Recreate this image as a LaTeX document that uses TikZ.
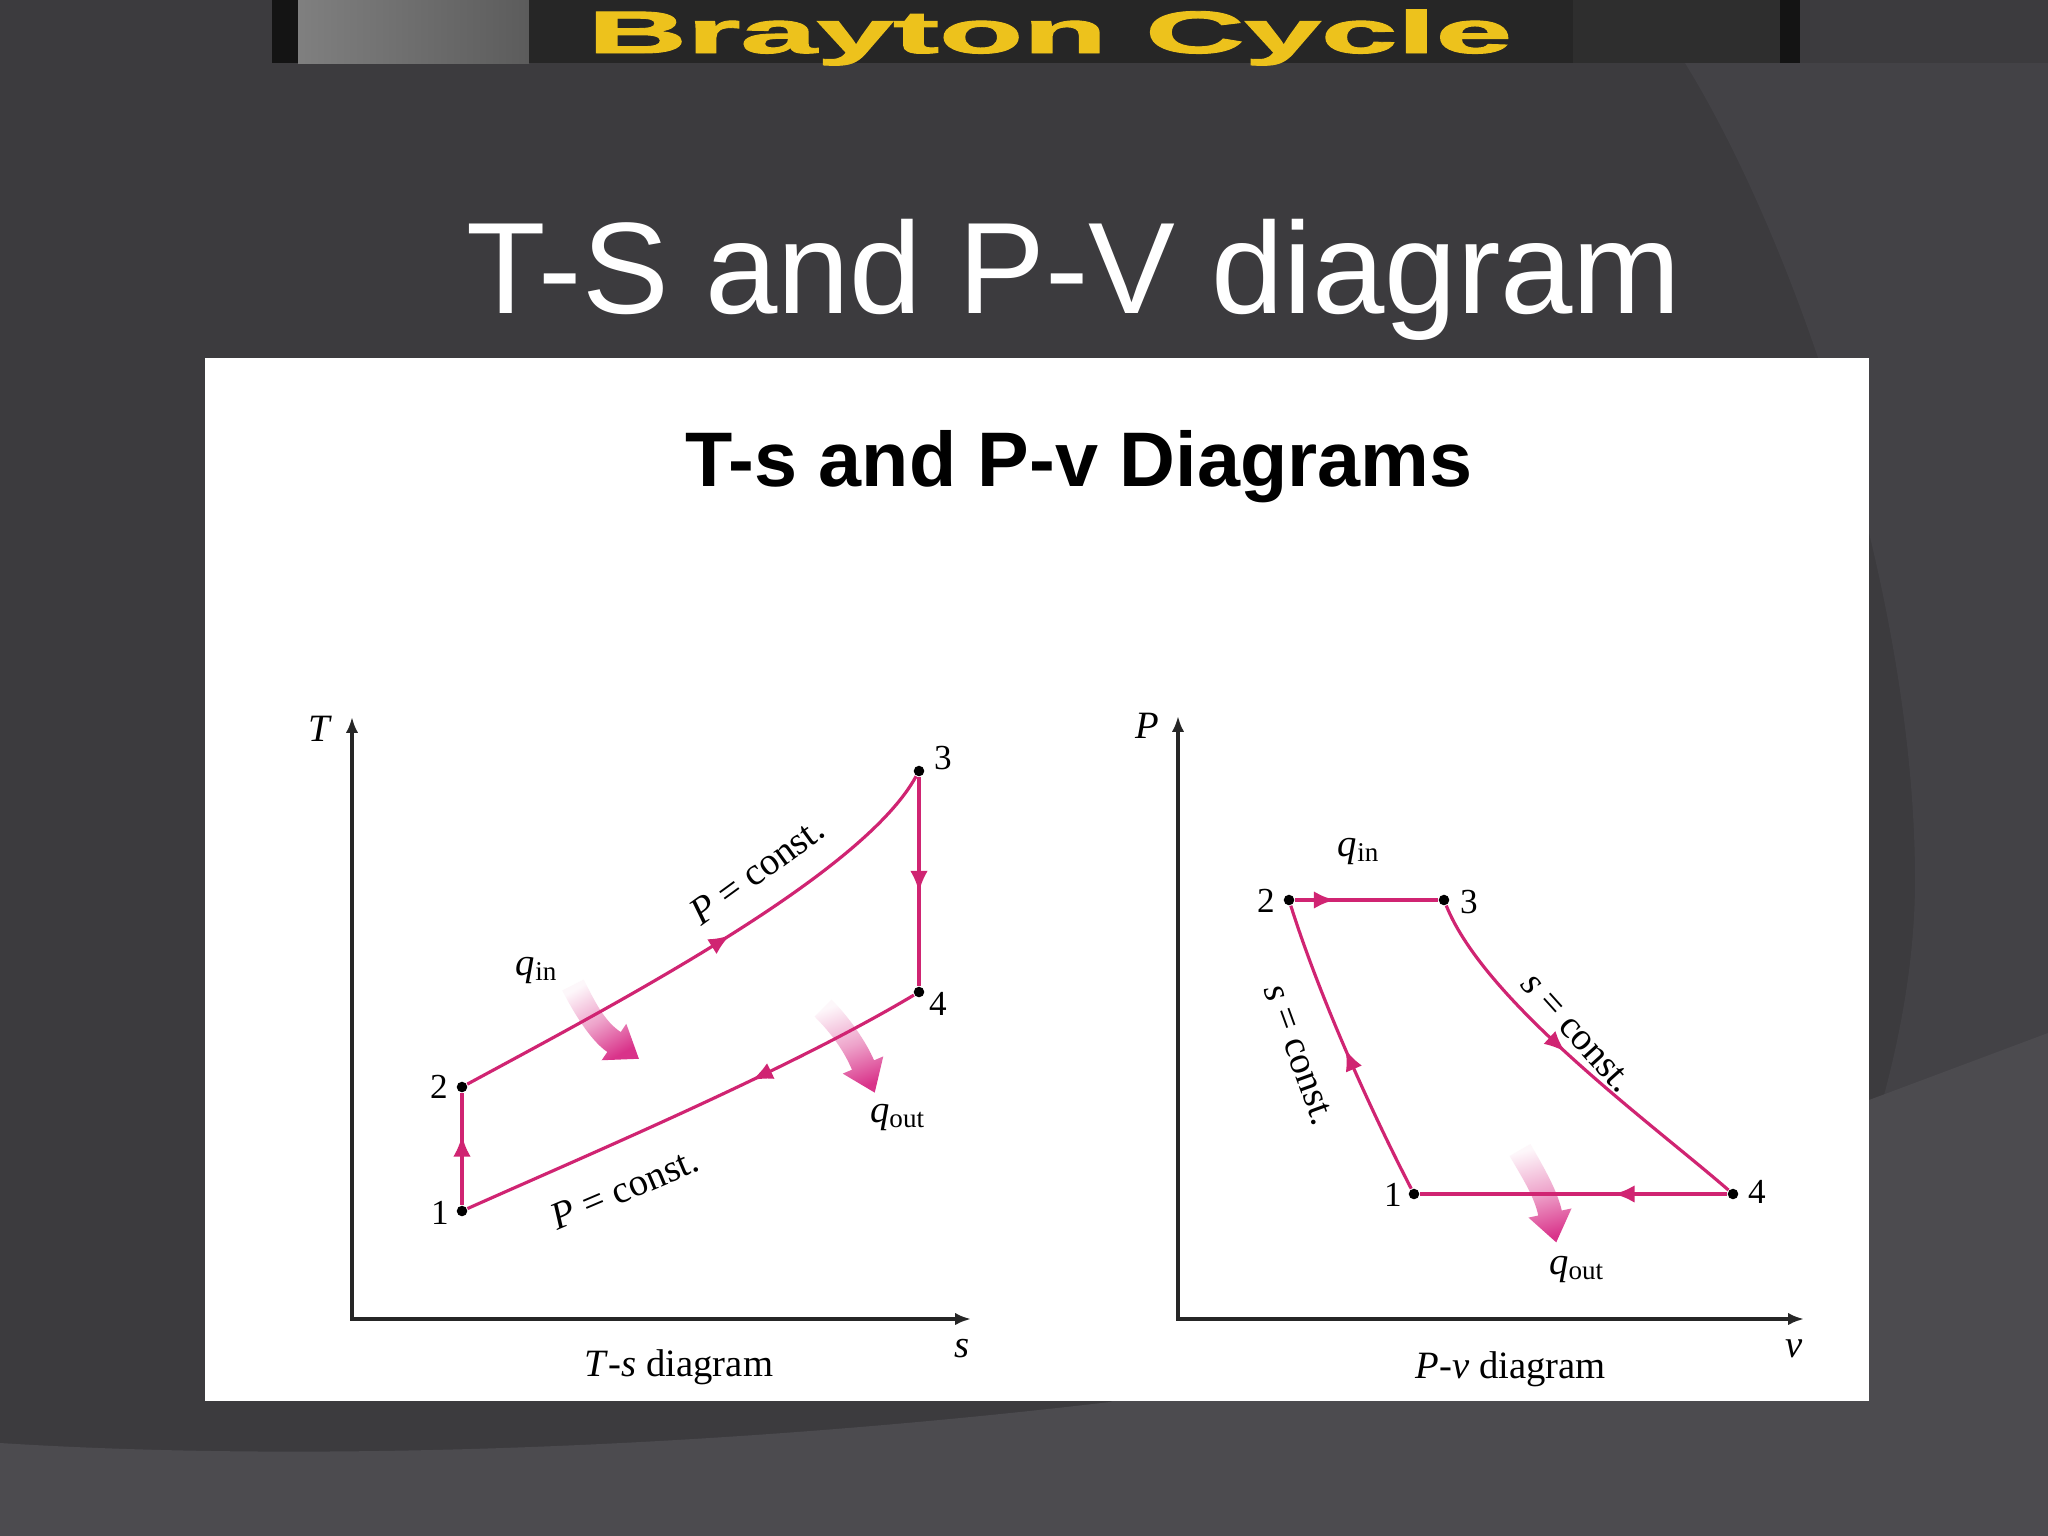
\documentclass[tikz,border=0pt]{standalone}
\usepackage{fontspec}
\setmainfont{Liberation Serif}
\setsansfont{Liberation Sans}
\newfontfamily\bannerfont[BoldFeatures={FakeBold=1.5}]{Liberation Sans}
\usetikzlibrary{arrows.meta}
\usetikzlibrary{calc}
\usetikzlibrary{decorations.markings}
\definecolor{slide}{HTML}{3C3B3E}
\definecolor{slideside}{HTML}{434246}
\definecolor{slidefoot}{HTML}{4C4B4F}
\definecolor{gold}{HTML}{EDC21C}
\definecolor{cycpink}{HTML}{D02472}
\definecolor{heatpink}{HTML}{D9338A}
\newcommand{\heatarrow}[5]{\shade[heat,shading angle=#5] ($(#1)+(#2+90:12)$) .. controls +(#2:25) and +(#4+180:20) .. ($(#3)+(#4+90:12)$) -- ($(#3)+(#4+90:22)$) -- ($(#3)+(#4:30)$) -- ($(#3)+(#4-90:22)$) -- ($(#3)+(#4-90:12)$) .. controls +(#4+180:20) and +(#2:25) .. ($(#1)+(#2-90:12)$) -- cycle;}

\begin{document}
\begin{tikzpicture}[x=0.01cm,y=-0.01cm,
	midarr/.style={postaction={decorate,decoration={markings,mark=at position #1 with {\arrow{Latex[length=6pt,width=5pt]}}}}}]
	\tikzstyle{axis}=[draw=black!85,line width=1pt,{Latex[length=4.5pt,width=3.5pt]}-{Latex[length=4.5pt,width=3.5pt]}]
	\tikzstyle{cyc}=[draw=cycpink,line width=0.9pt]
	\tikzstyle{cycthick}=[draw=cycpink,line width=1.3pt]
	\tikzstyle{statept}=[circle,fill=black,inner sep=0pt,minimum size=3pt]
	\tikzstyle{num}=[font=\fontsize{10}{12}\selectfont,inner sep=0pt]
	\tikzstyle{lbl}=[font=\fontsize{11}{13}\selectfont,inner sep=0pt]
	\tikzstyle{heat}=[top color=heatpink!4,bottom color=heatpink,middle color=heatpink!45]
	
	\useasboundingbox (0,0) rectangle (2048,1536);
	\fill[slide] (0,0) rectangle (2048,1536);
	\fill[slideside] (1685,63) .. controls (1800,250) and (1915,600) .. (1915,880) .. controls (1915,1100) and (1800,1350) .. (1684,1536) -- (2048,1536) -- (2048,63) -- cycle;
	\fill[slidefoot] (0,1443) .. controls (300,1462) and (700,1450) .. (1110,1402) -- (1869,1100) -- (2048,1033) -- (2048,1536) -- (0,1536) -- cycle;
	\fill[black!92] (272,0) rectangle (1800,63);
	\shade[left color=black!50,right color=black!64] (298,0) rectangle (529,63);
	\fill[black!85] (529,0) rectangle (1573,63);
	\fill[black!82] (1573,0) rectangle (1780,63);
	\node[font=\bannerfont\bfseries\fontsize{17}{17}\selectfont,text=gold,xscale=2.3,anchor=base] (brand) at (1050,53) {Brayton Cycle};
	\node[font=\sffamily\fontsize{37}{40}\selectfont,text=white,anchor=base] (title) at (1074,313) {T-S and P-V diagram};
	
	\fill[white] (205,358) rectangle (1869,1401);
	\node[font=\sffamily\bfseries\fontsize{22}{24}\selectfont,anchor=base] (paneltitle) at (1079,486) {T-s and P-v Diagrams};
	
	\coordinate (ttop) at (352,717);
	\coordinate (sright) at (971,1319);
	\draw[axis] (ttop) |- (sright);
	\node[lbl] (tlab) at (320,729) {\textit{T}};
	\node[lbl] (slab) at (962,1349) {\textit{s}};
	\node[lbl] (tscap) at (679,1367) {\textit{T}-\textit{s} diagram};
	\node[statept] (t1) at (462,1211) {};
	\node[statept] (t2) at (462,1087) {};
	\node[statept] (t3) at (919,771) {};
	\node[statept] (t4) at (919,992) {};
	\node[num] (tn1) at (440,1213) {1};
	\node[num] (tn2) at (439,1087) {2};
	\node[num] (tn3) at (943,758) {3};
	\node[num] (tn4) at (938,1004) {4};
	\coordinate (tqinA) at (573,985);
	\coordinate (tqinB) at (614,1042);
	\coordinate (tqoutA) at (823,1008);
	\coordinate (tqoutB) at (863,1065);
	\heatarrow{tqinA}{63}{tqinB}{34}{30}
	\heatarrow{tqoutA}{45}{tqoutB}{67}{20}
	\draw[cyc,midarr=.62] (t1) -- (t2);
	\draw[cyc,midarr=.55] (t2) .. controls (617,1003) and (862,875) .. (t3);
	\draw[cyc,midarr=.55] (t3) -- (t4);
	\draw[cyc,midarr=.37] (t4) .. controls (790,1069) and (599,1150) .. (t1);
	\node[lbl,rotate=36] (tpc1) at (757,871) {\textit{P} = const.};
	\node[lbl,rotate=23] (tpc2) at (625,1189) {\textit{P} = const.};
	\node[lbl] (tqin) at (537,970) {\textit{q}\textsubscript{in}};
	\node[lbl] (tqout) at (898,1117) {\textit{q}\textsubscript{out}};
	
	\coordinate (ptop) at (1178,716);
	\coordinate (vright) at (1804,1319);
	\draw[axis] (ptop) |- (vright);
	\node[lbl] (plab) at (1147,726) {\textit{P}};
	\node[lbl] (vlab) at (1794,1349) {\textit{v}};
	\node[lbl] (pvcap) at (1511,1369) {\textit{P}-\textit{v} diagram};
	\node[statept] (p1) at (1414,1194) {};
	\node[statept] (p2) at (1289,900) {};
	\node[statept] (p3) at (1444,900) {};
	\node[statept] (p4) at (1733,1194) {};
	\node[num] (pn1) at (1393,1195) {1};
	\node[num] (pn2) at (1266,901) {2};
	\node[num] (pn3) at (1469,902) {3};
	\node[num] (pn4) at (1757,1192) {4};
	\coordinate (pqoutA) at (1520,1150);
	\coordinate (pqoutB) at (1550,1213);
	\heatarrow{pqoutA}{60}{pqoutB}{78}{15}
	\draw[cycthick,midarr=.28] (p2) -- (p3);
	\draw[cyc,midarr=.47] (p3) .. controls (1485,1002) and (1650,1122) .. (p4);
	\draw[cycthick,midarr=.37] (p4) -- (p1);
	\draw[cyc,midarr=.5] (p1) .. controls (1368,1105) and (1319,995) .. (p2);
	\node[lbl,rotate=-70] (psc1) at (1299,1055) {\textit{s} = const.};
	\node[lbl,rotate=-48] (psc2) at (1577,1033) {\textit{s} = const.};
	\node[lbl] (pqin) at (1359,851) {\textit{q}\textsubscript{in}};
	\node[lbl] (pqout) at (1577,1269) {\textit{q}\textsubscript{out}};
\end{tikzpicture}
\end{document}
